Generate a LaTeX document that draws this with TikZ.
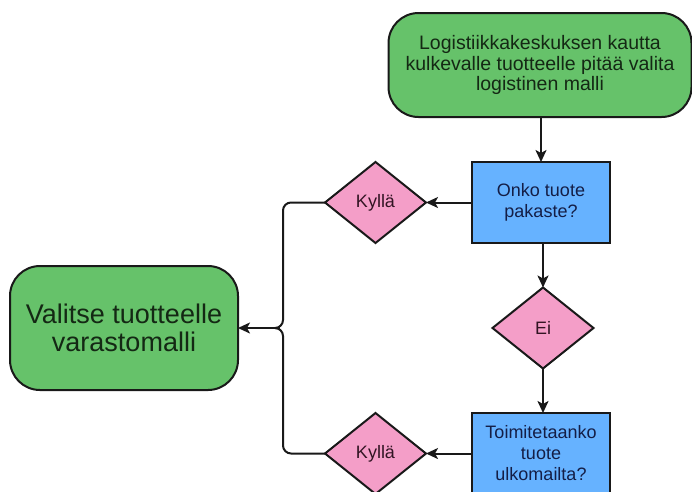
\documentclass[tikz,border=0pt]{standalone}
\usepackage{fontspec}
\setmainfont{Liberation Sans}
\usetikzlibrary{shapes.geometric,arrows.meta}
\definecolor{gfill}{RGB}{102,194,106}
\definecolor{bfill}{RGB}{102,178,255}
\definecolor{pfill}{RGB}{244,158,200}
\definecolor{gtext}{RGB}{20,40,20}
\definecolor{btext}{RGB}{20,30,70}
\definecolor{ptext}{RGB}{50,20,35}
\tikzset{
  greenbox/.style={draw=black!90, line width=2pt, fill=gfill, rounded corners=30pt, align=center, text=gtext, inner sep=0pt, outer sep=0pt},
  bluebox/.style={draw=black!90, line width=2pt, fill=bfill, align=center, text=btext, minimum width=138pt, minimum height=81pt, inner sep=0pt, outer sep=0pt, font=\fontsize{18}{21}\selectfont},
  decision/.style={diamond, draw=black!90, line width=2pt, fill=pfill, text=ptext, minimum width=101pt, minimum height=81pt, inner sep=0pt, outer sep=0pt, font=\fontsize{18}{21}\selectfont},
  conn/.style={line width=2pt, draw=black!90, -{Stealth[length=12pt,width=11pt,inset=3pt]}},
  plain/.style={line width=2pt, draw=black!90, rounded corners=8pt}
}
\begin{document}
\begin{tikzpicture}[x=1pt,y=-1pt]
\useasboundingbox (0,0) rectangle (692,491);
\clip (0,0) rectangle (692,491);
\node[greenbox, minimum width=303pt, minimum height=104pt, font=\fontsize{19.5}{20.5}\selectfont] (start) at (540,65) {Logistiikkakeskuksen kautta\\kulkevalle tuotteelle pitää valita\\logistinen malli};
\node[bluebox] (q1) at (541,202.5) {Onko tuote\\pakaste?};
\node[decision] (y1) at (375.5,202.5) {Kyllä};
\node[decision] (ei) at (543,328) {Ei};
\node[bluebox] (q2) at (541,453.5) {Toimitetaanko\\tuote\\ulkomailta?};
\node[decision] (y2) at (375.5,453.5) {Kyllä};
\node[greenbox, minimum width=228pt, minimum height=124pt, font=\fontsize{27}{28.5}\selectfont] (end) at (124,328) {Valitse tuotteelle\\varastomalli};
\coordinate (j) at (283,328);
\draw[conn] (start.south -| q1.north) -- (q1.north);
\draw[conn] (q1.west) -- (y1.east);
\draw[conn] (q1.south -| ei.north) -- (ei.north);
\draw[conn] (ei.south) -- (ei.south |- q2.north);
\draw[conn] (q2.west) -- (y2.east);
\draw[plain] (y1.west) -| (j) -- ([xshift=-4pt]j);
\draw[plain] (y2.west) -| (j) -- ([xshift=-4pt]j);
\draw[conn] ([xshift=-3pt]j) -- (end.east);
\end{tikzpicture}
\end{document}
